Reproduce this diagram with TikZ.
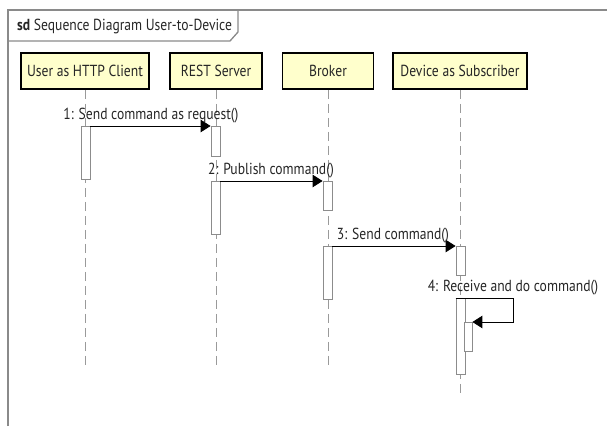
\documentclass[tikz,border=0pt]{standalone}
\usepackage{fontspec}
\setmainfont{PT Sans}[FakeStretch=0.85]
\usetikzlibrary{arrows.meta}
\definecolor{headfill}{HTML}{FFFFCC}
\definecolor{inkgray}{HTML}{262626}
\definecolor{framegray}{HTML}{8A8A8A}
\definecolor{lifegray}{HTML}{9A9A9A}
\begin{document}
\begin{tikzpicture}[x=1pt,y=-1pt,
  txt/.style={font=\fontsize{16}{18}\selectfont, text=inkgray},
  headbox/.style={draw=black, line width=1.6pt, fill=headfill, minimum height=36pt, inner sep=0pt, txt},
  lifeline/.style={draw=lifegray, line width=0.9pt, dash pattern=on 9pt off 5pt},
  actbox/.style={draw=gray!90, line width=0.8pt, fill=white, minimum width=9pt, inner sep=0pt, anchor=north},
  msg/.style={draw=black, line width=0.9pt, -{Triangle[length=10pt,width=12.5pt]}},
  lbl/.style={txt, inner sep=0pt},
  frameline/.style={draw=framegray, line width=1.3pt}]
\useasboundingbox (0,0) rectangle (607,426);

% diagram frame and its name tab
\draw[frameline] (8,426) -- (8,10) -- (607,10);
\draw[frameline] (8,41) -- (230,41) -- (238,32) -- (238,10);
\node[lbl, anchor=west] (title) at (17,26) {\textbf{sd} Sequence Diagram User-to-Device};

% participants
\node[headbox, minimum width=128pt] (user) at (85,71) {User as HTTP Client};
\node[headbox, minimum width=92pt] (rest) at (216,71) {REST Server};
\node[headbox, minimum width=91pt] (broker) at (328,71) {Broker};
\node[headbox, minimum width=134pt] (device) at (460,71) {Device as Subscriber};

% lifeline ends
\coordinate (userend) at (85,368);
\coordinate (restend) at (216,368);
\coordinate (brokerend) at (328,368);
\coordinate (deviceend) at (460,394);

\draw[lifeline] (user.south) -- (userend);
\draw[lifeline] (rest.south) -- (restend);
\draw[lifeline] (broker.south) -- (brokerend);
\draw[lifeline] (device.south) -- (deviceend);

% activation bars
\node[actbox, minimum height=53pt] (act1) at (85.5,126) {};
\node[actbox, minimum height=30pt] (act2a) at (215.5,126) {};
\node[actbox, minimum height=53pt] (act2b) at (215.5,181) {};
\node[actbox, minimum height=29pt] (act3a) at (327.5,181) {};
\node[actbox, minimum height=53pt] (act3b) at (327.5,246) {};
\node[actbox, minimum height=29pt] (act4a) at (460.5,246) {};
\node[actbox, minimum height=76pt] (act4b) at (460.5,298) {};
\node[actbox, minimum height=29pt, minimum width=8pt] (act4c) at (468,322) {};

% messages
\draw[msg] (act1.north east) -- (act2a.north west);
\draw[msg] (act2b.north east) -- (act3a.north west);
\draw[msg] (act3b.north east) -- (act4a.north west);
\draw[msg] (act4b.north west) -- (513,298) |- (act4c.north east);

% message labels
\node[lbl] (m1) at (151,116) {1: Send command as request()};
\node[lbl] (m2) at (271,171) {2: Publish command()};
\node[lbl] (m3) at (393,236) {3: Send command()};
\node[lbl] (m4) at (513,288) {4: Receive and do command()};
\end{tikzpicture}
\end{document}
